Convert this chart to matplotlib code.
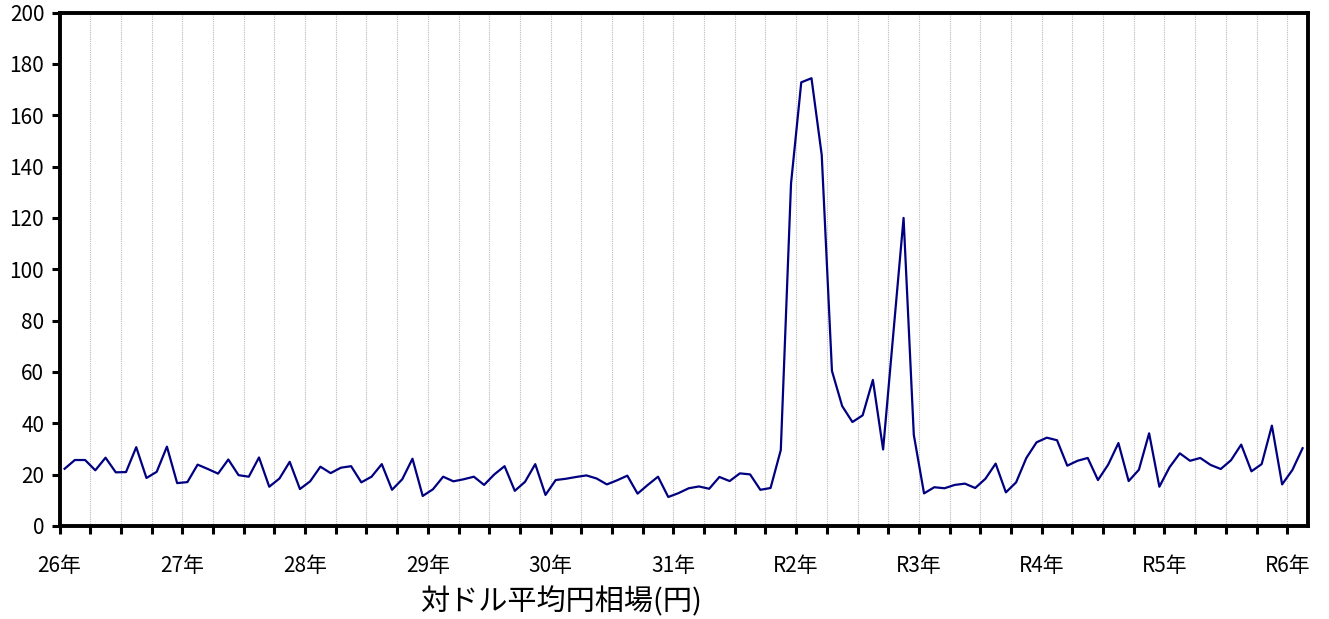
import matplotlib
matplotlib.use("Agg")
import matplotlib.pyplot as plt
import numpy as np

plt.rcParams['font.family'] = ['Noto Sans CJK JP', 'DejaVu Sans']

# Monthly values (Jan H26 .. Feb R6)
values = [
    22.3, 25.7, 25.7, 21.7, 26.6, 20.9, 21.0, 30.7, 18.7, 21.1, 30.9, 16.7,
    17.1, 23.9, 22.2, 20.4, 25.9, 19.8, 19.2, 26.7, 15.3, 18.5, 25.0, 14.4,
    17.4, 23.1, 20.6, 22.7, 23.3, 17.0, 19.2, 24.1, 14.1, 18.2, 26.2, 11.7,
    14.3, 19.2, 17.4, 18.2, 19.2, 16.0, 20.1, 23.3, 13.7, 17.2, 24.1, 12.1,
    17.9, 18.4, 19.1, 19.7, 18.5, 16.2, 17.8, 19.6, 12.6, 16.0, 19.2, 11.3,
    12.8, 14.7, 15.4, 14.5, 19.1, 17.5, 20.5, 20.1, 14.1, 14.8, 29.6, 133.4,
    172.8, 174.4, 144.5, 60.4, 46.7, 40.5, 43.1, 56.9, 29.8, 75.0, 120.0, 35.5,
    12.7, 15.1, 14.7, 16.0, 16.5, 14.8, 18.4, 24.3, 13.1, 17.0, 26.5, 32.6,
    34.4, 33.4, 23.5, 25.4, 26.5, 17.9, 23.9, 32.3, 17.5, 21.9, 36.1, 15.3,
    22.9, 28.3, 25.4, 26.5, 23.8, 22.2, 25.6, 31.7, 21.3, 24.1, 39.1, 16.2,
    21.8, 30.3,
]
year_labels = ["26年", "27年", "28年", "29年", "30年", "31年", "R2年", "R3年", "R4年", "R5年", "R6年"]
y_ticks = [0, 20, 40, 60, 80, 100, 120, 140, 160, 180, 200]
x_title = "対ドル平均円相場(円)"

W, H = 1329, 619
fig = plt.figure(figsize=(W / 100, H / 100), dpi=100)
left, right, top, bottom = 59.5, 1307.7, 12.5, 526
ax = fig.add_axes([left / W, (H - bottom) / H, (right - left) / W, (bottom - top) / H])

n = len(values)
x = np.arange(n) + 0.5
ax.plot(x, values, color='#000080', lw=1.6, zorder=3)

ax.set_xlim(0, n)
ax.set_ylim(0, 200)

quarters = np.arange(0, 121, 3)
ax.set_xticks(quarters)
ax.set_xticklabels([year_labels[int(q // 12)] if q % 12 == 0 else "" for q in quarters])
for q in quarters[1:]:
    ax.axvline(q, color='#bbbbbb', lw=0.8, ls=(0, (1, 1)), zorder=1)

ax.set_yticks(y_ticks)
ax.set_yticklabels([str(v) for v in y_ticks])

for s in ax.spines.values():
    s.set_linewidth(2.8)
    s.set_color('black')

ax.tick_params(axis='x', direction='out', length=6, width=2.2, pad=15, labelsize=15)
ax.tick_params(axis='y', direction='out', length=6, width=2.2, pad=5, labelsize=15)

fig.text(561 / W, 1 - 602 / H, x_title, ha='center', va='center', fontsize=21)

fig.savefig("out.png", dpi=100)
